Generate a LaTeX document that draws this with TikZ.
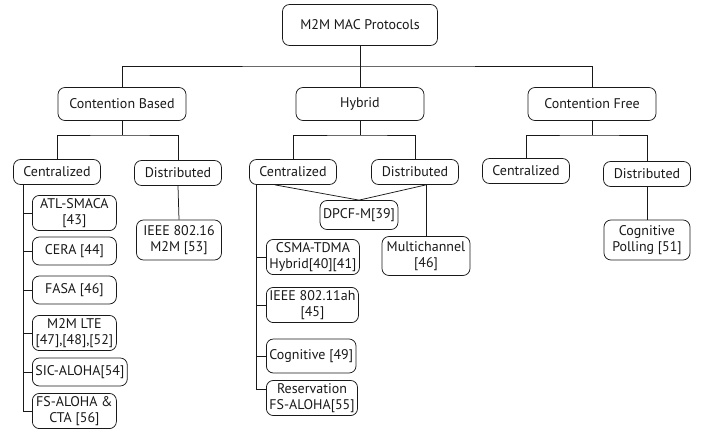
\documentclass[tikz,border=0pt]{standalone}
\usepackage{fontspec}
\setmainfont{PT Sans}
\usetikzlibrary{positioning, calc}

\tikzset{
	box/.style={draw=black!90, line width=0.75pt, rounded corners=7pt, align=center, inner sep=3pt,
		text=black!90, font=\fontsize{14}{16}\selectfont},
	link/.style={draw=black!90, line width=0.75pt},
	leaf/.style={box, anchor=west, minimum width=84pt, minimum height=28pt}
}

\begin{document}
\begin{tikzpicture}[x=1pt, y=-1pt]
		
		\useasboundingbox (0,0) rectangle (709,434);
		
		%Top levels
		\node[box, minimum width=155pt, minimum height=41pt] (top) at (360,25){M2M MAC Protocols};
		\node[box, minimum width=128pt, minimum height=33pt] (CB) at (122,104){Contention Based};
		\node[box, minimum width=128pt, minimum height=33pt] (HY) at (360,104){Hybrid};
		\node[box, minimum width=128pt, minimum height=33pt] (CF) at (592,104){Contention Free};
		
		\node[box, minimum width=87pt, minimum height=25pt] (CBc) at (57,172){Centralized};
		\node[box, minimum width=87pt, minimum height=25pt] (CBd) at (178,173){Distributed};
		\node[box, minimum width=87pt, minimum height=25pt] (HYc) at (293,172){Centralized};
		\node[box, minimum width=87pt, minimum height=25pt] (HYd) at (415,172){Distributed};
		\node[box, minimum width=87pt, minimum height=25pt] (CFc) at (526,171){Centralized};
		\node[box, minimum width=87pt, minimum height=25pt] (CFd) at (647,174){Distributed};
		
		%Contention based leaves
		\node[leaf] (cb1) at (32,213){ATL-SMACA\\{}[43]};
		\node[leaf] (cb2) at (32,251){CERA [44]};
		\node[leaf] (cb3) at (32,290){FASA [46]};
		\node[leaf] (cb4) at (32,333){M2M LTE\\{}[47],[48],[52]};
		\node[leaf] (cb5) at (32,372){SIC-ALOHA[54]};
		\node[leaf] (cb6) at (32,411){FS-ALOHA \&\\CTA [56]};
		\node[box, minimum width=85pt, minimum height=40pt] (cbd1) at (179,240){IEEE 802.16\\M2M [53]};
		
		%Hybrid leaves
		\node[box, minimum width=76pt, minimum height=29pt] (dpcf) at (359,215){DPCF-M[39]};
		\node[box, minimum width=88pt, minimum height=39pt, inner xsep=1pt] (multi) at (426,256){Multichannel\\{}[46]};
		\node[leaf, minimum width=87pt] (hy1) at (266,257){CSMA-TDMA\\Hybrid[40][41]};
		\node[leaf, minimum width=87pt] (hy2) at (266,305){IEEE 802.11ah\\{}[45]};
		\node[leaf, minimum width=87pt, minimum height=34pt] (hy3) at (266,356){Cognitive [49]};
		\node[leaf, minimum width=87pt] (hy4) at (266,398){Reservation\\FS-ALOHA[55]};
		
		%Contention free leaves
		\node[box, minimum width=86pt, minimum height=40pt] (cfd1) at (647,240){Cognitive\\Polling [51]};
		
		%Bus lines
		\coordinate (bus) at (360,66);
		\coordinate (CBbus) at (122,135);
		\coordinate (HYbus) at (360,135);
		\coordinate (CFbus) at (592,135);
		
		\draw[link] (top.south) -- (HY.north);
		\draw[link] (CB.north) |- (bus) -| (CF.north);
		
		\draw[link] (CB.south) -- (CBbus);
		\draw[link] (CBc.north) |- (CBbus) -| (CBd.north);
		\draw[link] (HY.south) -- (HYbus);
		\draw[link] (HYc.north) |- (HYbus) -| (HYd.north);
		\draw[link] (CF.south) -- (CFbus);
		\draw[link] (CFc.north) |- (CFbus) -| (CFd.north);
		
		%Contention based links
		\draw[link] ([xshift=10pt]CBc.south west) |- (cb1.west);
		\draw[link] ([xshift=10pt]CBc.south west) |- (cb2.west);
		\draw[link] ([xshift=10pt]CBc.south west) |- (cb3.west);
		\draw[link] ([xshift=10pt]CBc.south west) |- (cb4.west);
		\draw[link] ([xshift=10pt]CBc.south west) |- (cb5.west);
		\draw[link] ([xshift=10pt]CBc.south west) |- (cb6.west);
		\draw[link] (CBd.south) -- (cbd1.north);
		
		%Hybrid links
		\draw[link] ([xshift=-18pt]HYc.south) -- (dpcf.north);
		\draw[link] ([xshift=11pt]HYd.south) -- (dpcf.north);
		\draw[link] ([xshift=11pt]HYd.south) -- (multi.north);
		\draw[link] ([xshift=7pt]HYc.south west) |- (hy1.west);
		\draw[link] ([xshift=7pt]HYc.south west) |- (hy2.west);
		\draw[link] ([xshift=7pt]HYc.south west) |- (hy3.west);
		\draw[link] ([xshift=7pt]HYc.south west) |- ([yshift=9pt]hy4.west);
		
		%Contention free links
		\draw[link] (CFd.south) -- (cfd1.north);
		
		\end{tikzpicture}
\end{document}
